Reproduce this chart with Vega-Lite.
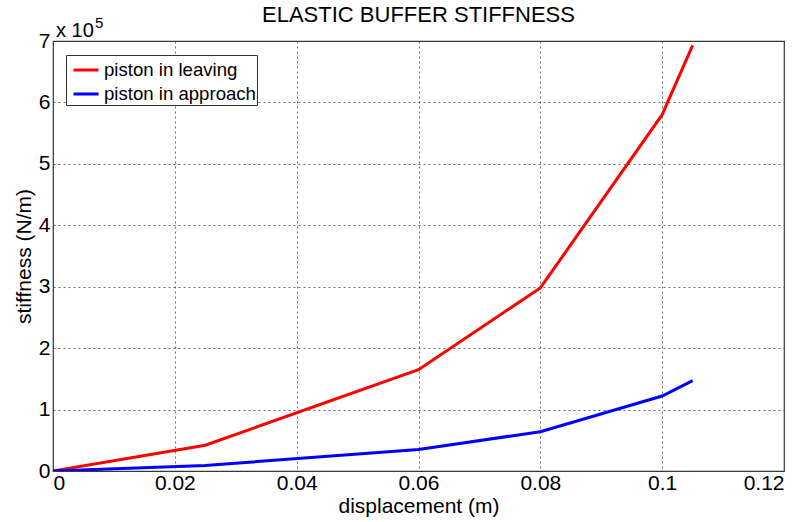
{
  "$schema": "https://vega.github.io/schema/vega-lite/v6.json",
  "width": 731,
  "height": 430,
  "autosize": "none",
  "padding": {"left": 53, "top": 41, "right": 25, "bottom": 51},
  "background": "white",
  "config": {
    "font": "Liberation Sans",
    "view": {"stroke": "#333", "strokeWidth": 1.2},
    "axis": {
      "labelFont": "Liberation Sans",
      "titleFont": "Liberation Sans",
      "labelFontSize": 21,
      "titleFontSize": 21,
      "labelColor": "black",
      "titleColor": "black",
      "titleFontWeight": "normal",
      "grid": true,
      "gridColor": "#444",
      "gridDash": [2, 3],
      "gridWidth": 0.8,
      "gridOpacity": 1,
      "domain": false,
      "ticks": false
    }
  },
  "title": {
    "text": "ELASTIC BUFFER STIFFNESS",
    "font": "Liberation Sans",
    "fontSize": 22,
    "fontWeight": "normal",
    "color": "black",
    "frame": "group",
    "offset": -11
  },
  "data": {
    "values": [
      {"d": 0, "k": 0, "s": "piston in leaving"},
      {"d": 0.025, "k": 0.42, "s": "piston in leaving"},
      {"d": 0.06, "k": 1.65, "s": "piston in leaving"},
      {"d": 0.08, "k": 2.98, "s": "piston in leaving"},
      {"d": 0.1, "k": 5.8, "s": "piston in leaving"},
      {"d": 0.105, "k": 6.93, "s": "piston in leaving"},
      {"d": 0, "k": 0, "s": "piston in approach"},
      {"d": 0.025, "k": 0.09, "s": "piston in approach"},
      {"d": 0.06, "k": 0.35, "s": "piston in approach"},
      {"d": 0.08, "k": 0.64, "s": "piston in approach"},
      {"d": 0.1, "k": 1.22, "s": "piston in approach"},
      {"d": 0.105, "k": 1.47, "s": "piston in approach"}
    ]
  },
  "layer": [
    {
      "mark": {"type": "line", "strokeWidth": 3, "clip": true},
      "encoding": {
        "x": {
          "field": "d",
          "type": "quantitative",
          "scale": {"domain": [0, 0.12], "nice": false, "zero": false},
          "axis": {
            "values": [0, 0.02, 0.04, 0.06, 0.08, 0.1, 0.12],
            "labelExpr": "datum.value == 0 ? '0' : format(datum.value, '.2~f')",
            "labelPadding": 1,
            "title": "displacement (m)",
            "titlePadding": 2
          }
        },
        "y": {
          "field": "k",
          "type": "quantitative",
          "scale": {"domain": [0, 7], "nice": false},
          "axis": {
            "values": [0, 1, 2, 3, 4, 5, 6, 7],
            "format": "d",
            "labelPadding": 3,
            "title": "stiffness (N/m)",
            "titlePadding": 4
          }
        },
        "color": {
          "field": "s",
          "type": "nominal",
          "scale": {"domain": ["piston in leaving", "piston in approach"], "range": ["#ff0000", "#0000ff"]},
          "legend": {
            "title": null,
            "orient": "none",
            "legendX": 13,
            "legendY": 14,
            "symbolType": "stroke",
            "symbolStrokeWidth": 3,
            "symbolSize": 625,
            "symbolOffset": 5,
            "labelFont": "Liberation Sans",
            "labelFontSize": 18.6,
            "labelColor": "black",
            "strokeColor": "#333",
            "fillColor": "white",
            "padding": 1,
            "rowPadding": -3,
            "labelOffset": 4
          }
        }
      }
    },
    {
      "data": {"values": [{"d": 0, "k": 7, "t": "x 10"}]},
      "mark": {"type": "text", "align": "left", "baseline": "alphabetic", "fontSize": 20, "dx": 3, "dy": -4, "color": "black"},
      "encoding": {
        "x": {"field": "d", "type": "quantitative"},
        "y": {"field": "k", "type": "quantitative"},
        "text": {"field": "t"}
      }
    },
    {
      "data": {"values": [{"d": 0, "k": 7, "t": "5"}]},
      "mark": {"type": "text", "align": "left", "baseline": "alphabetic", "fontSize": 15, "dx": 42, "dy": -13, "color": "black"},
      "encoding": {
        "x": {"field": "d", "type": "quantitative"},
        "y": {"field": "k", "type": "quantitative"},
        "text": {"field": "t"}
      }
    }
  ]
}
